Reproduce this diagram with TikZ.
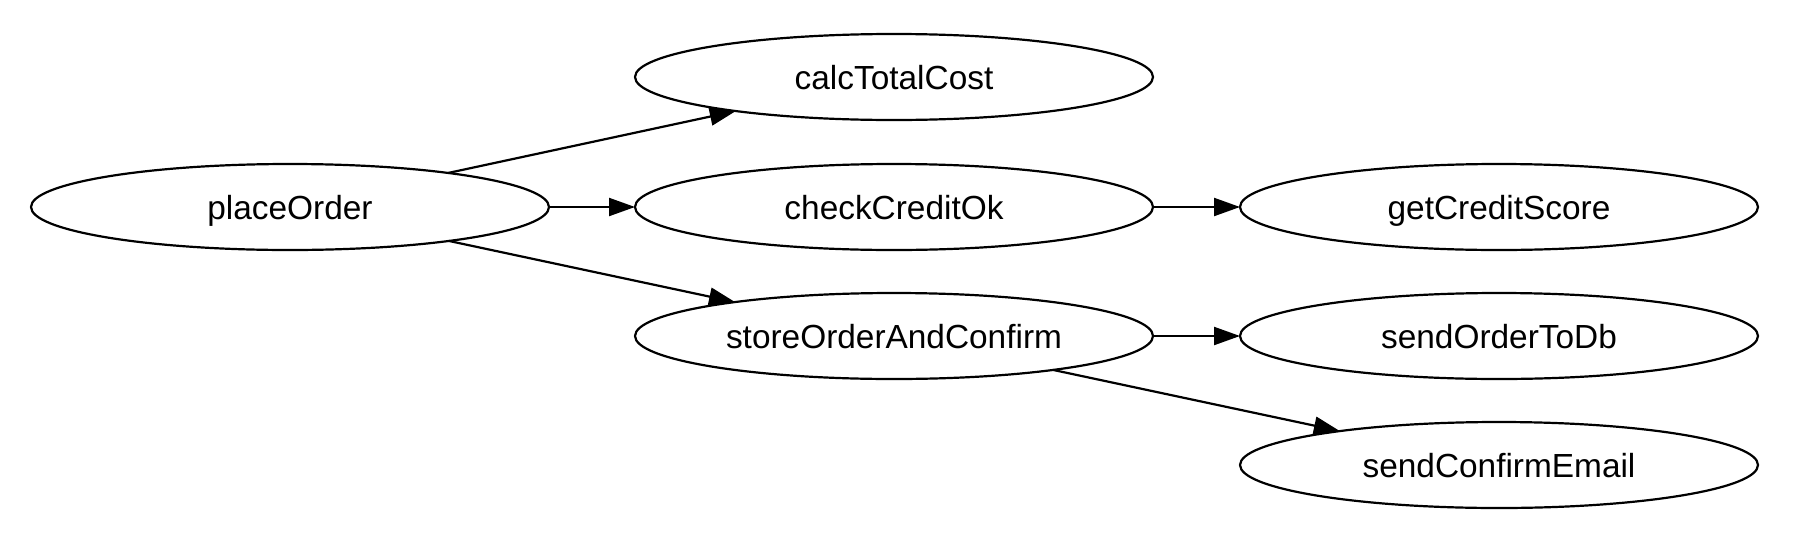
\documentclass[tikz,border=0pt]{standalone}
\usepackage{fontspec}
\setmainfont{Liberation Sans}
\usetikzlibrary{shapes.geometric,arrows.meta}
\begin{document}
\begin{tikzpicture}[x=0.5pt,y=-0.5pt,
  fn/.style={ellipse,draw,line width=1.1pt,minimum width=259pt,minimum height=43pt,inner sep=0pt,outer sep=0pt,text height=12.2pt,text depth=0pt,font=\fontsize{16.7pt}{20pt}\selectfont},
  edge/.style={line width=1.1pt,-{Triangle[length=13pt,width=9pt]}}]
\useasboundingbox (0,0) rectangle (1820,536);
\node[fn] (po)  at (290,207) {placeOrder};
\node[fn] (ctc) at (894,77)  {calcTotalCost};
\node[fn] (cco) at (894,207) {checkCreditOk};
\node[fn] (soc) at (894,336) {storeOrderAndConfirm};
\node[fn] (gcs) at (1499,207) {getCreditScore};
\node[fn] (sdb) at (1499,336) {sendOrderToDb};
\node[fn] (sce) at (1499,465) {sendConfirmEmail};
\draw[edge] (po) -- (ctc);
\draw[edge] (po) -- (cco);
\draw[edge] (po) -- (soc);
\draw[edge] (cco) -- (gcs);
\draw[edge] (soc) -- (sdb);
\draw[edge] (soc) -- (sce);
\end{tikzpicture}
\end{document}
